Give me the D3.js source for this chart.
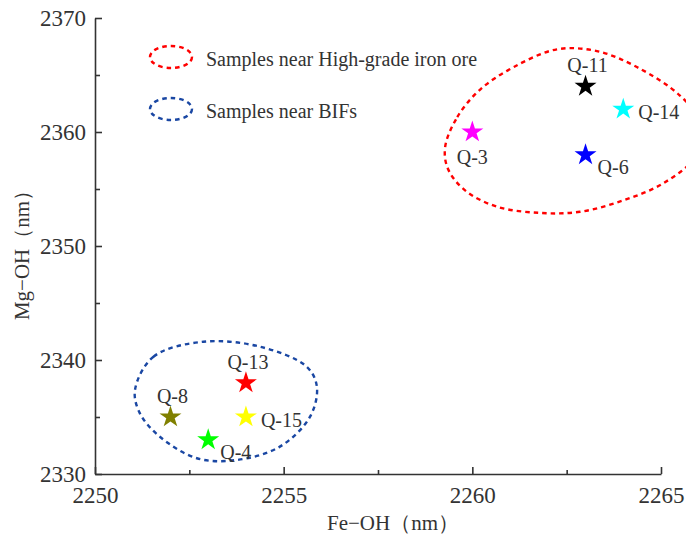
<!DOCTYPE html>
<html>
<head>
<meta charset="utf-8">
<script src="https://cdn.jsdelivr.net/npm/d3@7"></script>
<style>
  html, body { margin: 0; padding: 0; background: #fff; }
  svg text { font-family: "Liberation Serif", "Times New Roman", serif !important; fill: #333; }
</style>
</head>
<body>
<svg id="chart" width="686" height="536"></svg>
<script>
// Sample names, Fe-OH and Mg-OH absorption positions (nm), marker colours
const sampleNames = ["Q-3", "Q-11", "Q-14", "Q-6", "Q-13", "Q-15", "Q-8", "Q-4"];
const feOH = [2260, 2263, 2264, 2263, 2254, 2254, 2252, 2253];
const mgOH = [2360, 2364, 2362, 2358, 2338, 2335, 2335, 2333];
const starColors = ["#ff00ff", "#000000", "#00ffff", "#0000ff", "#ff0000", "#ffff00", "#808000", "#00ff00"];
// Label placement relative to each star: "above", "below", "right", "rightBelow"
const labelSide = ["below", "above", "right", "rightBelow", "above", "right", "above", "rightBelow"];

// Axis ticks
const xMajorTicks = [2250, 2255, 2260, 2265];
const xMinorTicks = [2252.5, 2257.5, 2262.5];
const yMajorTicks = [2330, 2340, 2350, 2360, 2370];
const yMinorTicks = [2335, 2345, 2355, 2365];

// Group outlines (data coordinates)
const oreOutlineX = [2259.28, 2259.6, 2260.2, 2261.1, 2262.24, 2263.3, 2264.36, 2265.5, 2266.1, 2265.9, 2265.06, 2264.0, 2262.85, 2261.8, 2260.65, 2259.8, 2259.35];
const oreOutlineY = [2358.7, 2361.3, 2363.7, 2365.7, 2367.25, 2367.1, 2365.7, 2363.2, 2360.6, 2357.8, 2355.5, 2354.0, 2353.0, 2352.9, 2353.45, 2354.9, 2356.8];
const bifOutlineX = [2251.06, 2251.55, 2252.87, 2254.37, 2255.61, 2255.88, 2255.70, 2254.90, 2253.76, 2252.70, 2251.72, 2251.19];
const bifOutlineY = [2337.37, 2340.29, 2341.6, 2341.17, 2339.41, 2337.66, 2335.03, 2332.4, 2331.23, 2331.38, 2333.27, 2335.32];

const legendLabels = ["Samples near High-grade iron ore", "Samples near BIFs"];
const legendColors = ["#ff0000", "#1a47a3"];

const svg = d3.select("#chart");
const margin = { left: 95, right: 25, top: 18, bottom: 62 };
const W = 686, H = 536;

const x = d3.scaleLinear().domain([2250, 2265]).range([margin.left, W - margin.right]);
const y = d3.scaleLinear().domain([2330, 2370]).range([H - margin.bottom, margin.top]);

const axisColor = "#333";
const serif = "'Liberation Serif', 'Times New Roman', serif";

// Outlines
const outline = d3.line().x(d => x(d[0])).y(d => y(d[1])).curve(d3.curveCatmullRomClosed.alpha(0.5));
const groups = [
  { xs: oreOutlineX, ys: oreOutlineY, color: legendColors[0] },
  { xs: bifOutlineX, ys: bifOutlineY, color: legendColors[1] }
];
svg.append("g").selectAll("path").data(groups).join("path")
  .attr("d", g => outline(g.xs.map((v, i) => [v, g.ys[i]])))
  .attr("fill", "none")
  .attr("stroke", g => g.color)
  .attr("stroke-width", 2.4)
  .attr("stroke-dasharray", "4.5,4");

// Axes
svg.append("g").attr("transform", `translate(0,${y(2330)})`)
  .call(d3.axisBottom(x).tickValues(xMajorTicks).tickFormat(d3.format("d")).tickSize(-7).tickSizeOuter(0).tickPadding(13));
svg.append("g").attr("transform", `translate(0,${y(2330)})`)
  .call(d3.axisBottom(x).tickValues(xMinorTicks).tickFormat("").tickSize(-4).tickSizeOuter(0))
  .select(".domain").remove();
svg.append("g").attr("transform", `translate(${x(2250)},0)`)
  .call(d3.axisLeft(y).tickValues(yMajorTicks).tickFormat(d3.format("d")).tickSize(-7).tickSizeOuter(0).tickPadding(9));
svg.append("g").attr("transform", `translate(${x(2250)},0)`)
  .call(d3.axisLeft(y).tickValues(yMinorTicks).tickFormat("").tickSize(-5).tickSizeOuter(0))
  .select(".domain").remove();

svg.selectAll(".domain, .tick line").attr("stroke", axisColor).attr("stroke-width", 1.6);
svg.selectAll("g").attr("font-family", serif);
svg.selectAll(".tick text")
  .style("font-family", serif)
  .attr("font-size", 23)
  .attr("fill", "#333");

// Axis titles
svg.append("text")
  .attr("x", 393).attr("y", 523)
  .attr("text-anchor", "middle").attr("dominant-baseline", "central")
  .attr("font-size", 21)
  .text("Fe\u2212OH\uFF08nm\uFF09");
svg.append("text")
  .attr("transform", "translate(22,250) rotate(-90)")
  .attr("text-anchor", "middle").attr("dominant-baseline", "central")
  .attr("font-size", 21)
  .text("Mg\u2212OH\uFF08nm\uFF09");

// Legend
const legend = svg.append("g");
legendLabels.forEach((lab, i) => {
  const cy = 57 + i * 52;
  legend.append("ellipse")
    .attr("cx", 171).attr("cy", cy).attr("rx", 21).attr("ry", 11)
    .attr("fill", "none").attr("stroke", legendColors[i])
    .attr("stroke-width", 2.4).attr("stroke-dasharray", "4.5,4");
  legend.append("text")
    .attr("x", 206).attr("y", cy + 2)
    .attr("dominant-baseline", "central")
    .attr("font-size", 20)
    .text(lab);
});

// Stars
const star = d3.symbol().type(d3.symbolStar).size(150);
const pts = sampleNames.map((n, i) => ({ name: n, fx: feOH[i], my: mgOH[i], color: starColors[i], side: labelSide[i] }));
svg.append("g").selectAll("path").data(pts).join("path")
  .attr("transform", d => `translate(${x(d.fx)},${y(d.my)})`)
  .attr("d", star)
  .attr("fill", d => d.color);

// Sample labels
const offsets = {
  above: { dx: 2, dy: -21, anchor: "middle" },
  below: { dx: 0, dy: 25, anchor: "middle" },
  right: { dx: 15, dy: 3, anchor: "start" },
  rightBelow: { dx: 12, dy: 12, anchor: "start" }
};
svg.append("g").selectAll("text").data(pts).join("text")
  .attr("x", d => x(d.fx) + offsets[d.side].dx)
  .attr("y", d => y(d.my) + offsets[d.side].dy)
  .attr("text-anchor", d => offsets[d.side].anchor)
  .attr("dominant-baseline", "central")
  .attr("font-size", 20)
  .text(d => d.name);
</script>
</body>
</html>
